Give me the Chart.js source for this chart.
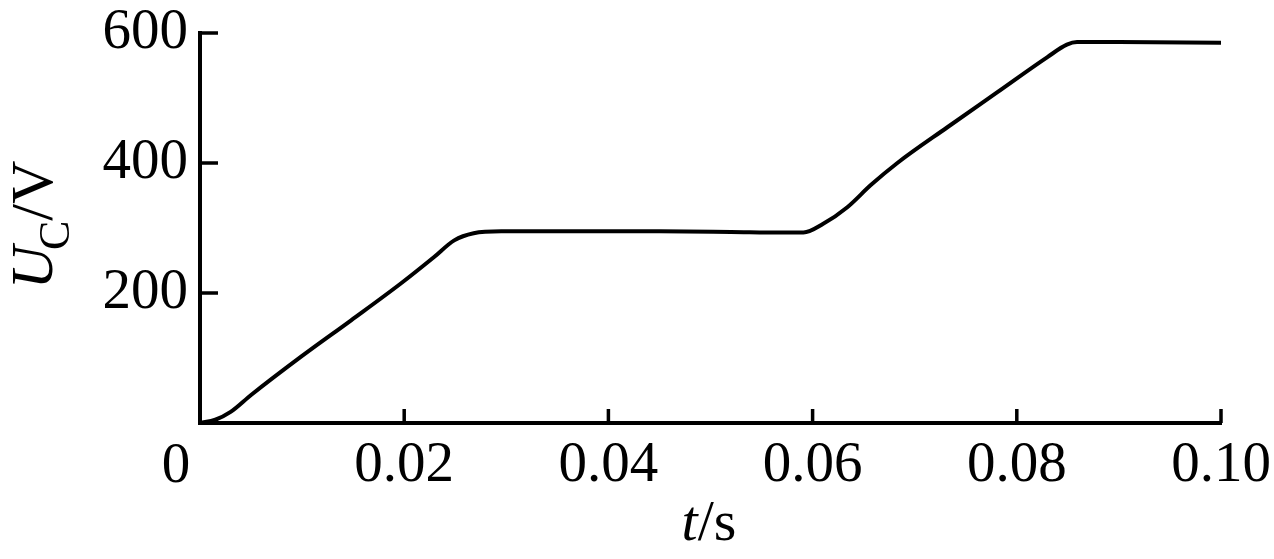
<!DOCTYPE html>
<html>
<head>
<meta charset="utf-8">
<script src="https://cdn.jsdelivr.net/npm/chart.js@4.4.1/dist/chart.umd.min.js"></script>
<style>
  html, body { margin: 0; padding: 0; background: #fff; }
  #wrap { width: 1274px; height: 559px; }
</style>
</head>
<body>
<div id="wrap"><canvas id="chart" width="1274" height="559"></canvas></div>
<script>
// time (s) and capacitor voltage (V)
const times = [0, 0.0015, 0.003, 0.005, 0.0099, 0.0148, 0.0197, 0.0229, 0.0249, 0.0268, 0.0295,
  0.035, 0.045, 0.052, 0.0569, 0.0591, 0.061, 0.0634, 0.0657, 0.0683, 0.0732, 0.0781,
  0.083, 0.0849, 0.0859, 0.09, 0.1];
const voltages = [0, 5, 17, 43, 102, 158, 215, 255, 281, 292, 295,
  295, 295, 294, 293, 293, 306, 332, 366, 400, 455, 509,
  563, 582, 586, 586, 585];
const xTicks = [0, 0.02, 0.04, 0.06, 0.08, 0.10];
const yTicks = [0, 200, 400, 600];

const FONT = "'Liberation Serif', 'Times New Roman', serif";
const points = times.map((t, i) => ({ x: t, y: voltages[i] }));

// inward tick marks and mixed-style axis titles
const axisDecor = {
  id: 'axisDecor',
  afterDraw(chart) {
    const ctx = chart.ctx;
    const xs = chart.scales.x;
    const ys = chart.scales.y;
    const area = chart.chartArea;
    ctx.save();
    ctx.strokeStyle = '#000';
    ctx.lineWidth = 3.5;
    ctx.beginPath();
    xTicks.slice(1).forEach(v => {
      const px = xs.getPixelForValue(v);
      ctx.moveTo(px, area.bottom);
      ctx.lineTo(px, area.bottom - 14);
    });
    yTicks.slice(1).forEach(v => {
      const py = ys.getPixelForValue(v);
      ctx.moveTo(area.left, py);
      ctx.lineTo(area.left + 18, py);
    });
    ctx.stroke();

    ctx.fillStyle = '#000';
    // shared origin label
    ctx.font = '57px ' + FONT;
    ctx.textAlign = 'center';
    ctx.textBaseline = 'alphabetic';
    ctx.fillText('0', area.left - 24, 482);

    // x title: t/s
    ctx.textAlign = 'left';
    ctx.font = 'italic 58px ' + FONT;
    const tW = ctx.measureText('t').width;
    ctx.font = '58px ' + FONT;
    const sW = ctx.measureText('/s').width;
    let x0 = 709 - (tW + sW) / 2;
    ctx.font = 'italic 58px ' + FONT;
    ctx.fillText('t', x0, 540);
    ctx.font = '58px ' + FONT;
    ctx.fillText('/s', x0 + tW, 540);

    // y title: U_C/V rotated
    ctx.translate(52, 223);
    ctx.rotate(-Math.PI / 2);
    ctx.font = 'italic 60px ' + FONT;
    const uW = ctx.measureText('U').width;
    ctx.font = '44px ' + FONT;
    const cW = ctx.measureText('C').width;
    ctx.font = '60px ' + FONT;
    const vW = ctx.measureText('/V').width;
    let s = -(uW + cW + vW) / 2;
    ctx.font = 'italic 60px ' + FONT;
    ctx.fillText('U', s, 0);
    ctx.font = '44px ' + FONT;
    ctx.fillText('C', s + uW - 4, 17);
    ctx.font = '60px ' + FONT;
    ctx.fillText('/V', s + uW + cW - 4, 0);
    ctx.restore();
  }
};

new Chart(document.getElementById('chart'), {
  type: 'line',
  data: {
    datasets: [{
      data: points,
      borderColor: '#000',
      borderWidth: 4,
      pointRadius: 0,
      cubicInterpolationMode: 'monotone',
      fill: false
    }]
  },
  options: {
    responsive: false,
    animation: false,
    events: [],
    layout: { padding: { left: 0, top: 33, right: 53, bottom: 0 } },
    plugins: { legend: { display: false }, tooltip: { enabled: false } },
    scales: {
      x: {
        type: 'linear',
        min: 0,
        max: 0.1,
        afterBuildTicks: axis => { axis.ticks = xTicks.map(v => ({ value: v })); },
        afterFit: axis => {
          axis.height = 136;
          axis.paddingLeft = 0;
          axis.paddingRight = 0;
        },
        border: { display: true, color: '#000', width: 4 },
        grid: { display: false, drawTicks: false },
        ticks: {
          color: '#000',
          padding: 9,
          maxRotation: 0,
          font: { family: FONT, size: 57 },
          callback: v => v === 0 ? '' : v.toFixed(2)
        }
      },
      y: {
        min: 0,
        max: 600,
        afterBuildTicks: axis => { axis.ticks = yTicks.map(v => ({ value: v })); },
        afterFit: axis => {
          axis.width = 200;
          axis.paddingTop = 0;
          axis.paddingBottom = 0;
        },
        border: { display: true, color: '#000', width: 4 },
        grid: { display: false, drawTicks: false },
        ticks: {
          color: '#000',
          padding: 12,
          font: { family: FONT, size: 57 },
          callback: v => v === 0 ? '' : String(v)
        }
      }
    }
  },
  plugins: [axisDecor]
});
</script>
</body>
</html>
